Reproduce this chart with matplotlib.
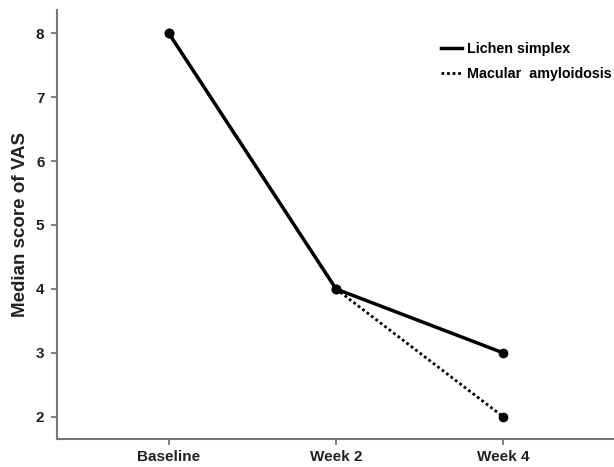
import matplotlib
matplotlib.use("Agg")
import matplotlib.pyplot as plt

categories = ["Baseline", "Week 2", "Week 4"]
lichen = [8, 4, 3]
macular = [8, 4, 2]
yticks = [2, 3, 4, 5, 6, 7, 8]

fam = "Liberation Sans"
plt.rcParams["font.family"] = [fam, "DejaVu Sans"]

fig = plt.figure(figsize=(6.14, 4.67), dpi=100)
ax = fig.add_axes([0.0928, 0.06, 0.9072, 0.9186])
x = list(range(len(categories)))
ax.plot(x, macular, color="black", linestyle=(0, (1, 1)), linewidth=2.0,
        marker="o", markersize=6, label="Macular  amyloidosis", zorder=2)
ax.plot(x, lichen, color="black", linestyle="-", linewidth=2.5,
        marker="o", markersize=6, label="Lichen simplex", zorder=3)

ax.set_xlim(-0.667, 2.66)
ax.set_ylim(1.656, 8.36)
ax.set_xticks(x)
ax.set_xticklabels(categories, fontsize=11, fontweight="bold", color="#222222")
ax.set_yticks(yticks)
ax.set_yticklabels([str(v) for v in yticks], fontsize=11, fontweight="bold", color="#222222")
ax.set_ylabel("Median score of VAS", fontsize=13.5, fontweight="bold", color="#222222")
ax.yaxis.set_label_coords(-0.05, 0.5)
for s in ["top", "right"]:
    ax.spines[s].set_visible(False)
for s in ["left", "bottom"]:
    ax.spines[s].set_color("#777777")
    ax.spines[s].set_linewidth(1.5)
ax.tick_params(axis="y", direction="out", length=4, width=1.3, color="#777777", pad=5)
ax.tick_params(axis="x", direction="out", length=4, width=1.3, color="#777777", pad=4)

h, l = ax.get_legend_handles_labels()
leg = ax.legend(h[::-1], l[::-1], loc="upper left", bbox_to_anchor=(0.667, 0.955),
                frameon=False, handlelength=1.45, handletextpad=0.35, labelspacing=0.75,
                prop={"family": [fam, "DejaVu Sans"], "weight": "bold", "size": 10.3})
for line in leg.get_lines():
    line.set_marker("")

fig.savefig("out.png", dpi=100)
